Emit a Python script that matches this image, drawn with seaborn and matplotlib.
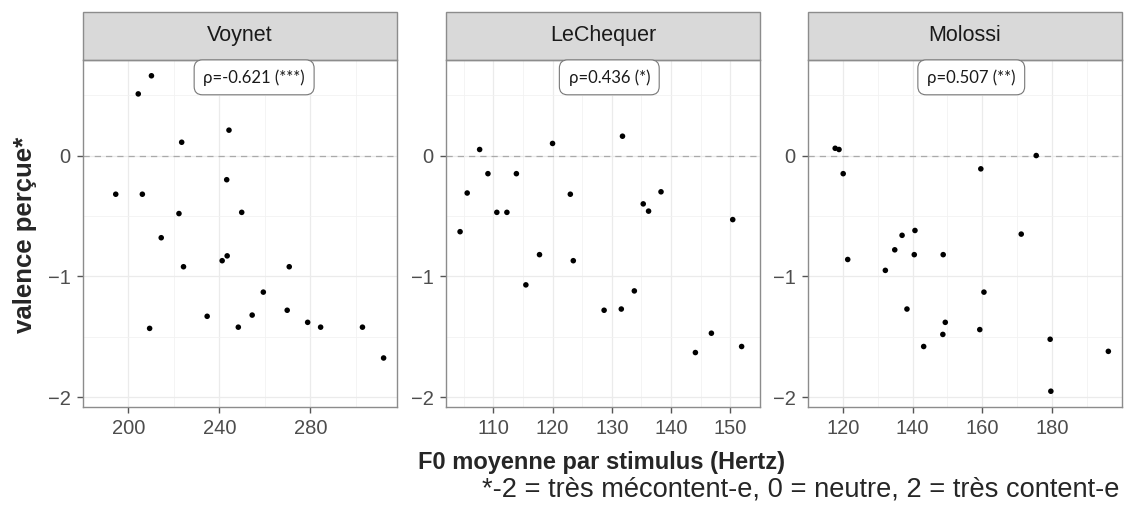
import matplotlib
matplotlib.use("Agg")
import matplotlib.pyplot as plt
from matplotlib.patches import Rectangle
import pandas as pd
import seaborn as sns

# data
speakers = ["Voynet", "LeChequer", "Molossi"]
rho_labels = ["ρ=-0.621 (***)", "ρ=0.436 (*)", "ρ=0.507 (**)"]

voynet_f0 = [194.4, 204.3, 210.1, 206.1, 209.3, 214.4, 222.2, 223.4, 224.2, 234.6, 241.2, 243.4,
             243.2, 244.2, 248.3, 249.8, 254.4, 259.3, 269.8, 270.7, 278.8, 284.5, 302.9, 312.2]
voynet_val = [-0.32, 0.51, 0.66, -0.32, -1.43, -0.68, -0.48, 0.11, -0.92, -1.33, -0.87, -0.83,
              -0.20, 0.21, -1.42, -0.47, -1.32, -1.13, -1.28, -0.92, -1.38, -1.42, -1.42, -1.675]

lechequer_f0 = [104.4, 105.6, 107.7, 109.1, 110.6, 112.3, 113.9, 115.5, 117.8, 120.0, 123.0, 123.5,
                128.7, 131.6, 131.8, 133.8, 135.3, 136.2, 138.3, 144.1, 146.8, 150.4, 151.9]
lechequer_val = [-0.63, -0.31, 0.05, -0.15, -0.47, -0.47, -0.15, -1.07, -0.82, 0.10, -0.32, -0.87,
                 -1.28, -1.27, 0.16, -1.12, -0.40, -0.46, -0.30, -1.63, -1.47, -0.53, -1.58]

molossi_f0 = [117.8, 118.9, 120.1, 121.4, 132.2, 134.9, 137.0, 138.4, 140.5, 140.7, 143.2,
              148.7, 148.8, 149.4, 159.3, 159.6, 160.5, 171.2, 175.5, 179.5, 179.7, 196.2]
molossi_val = [0.06, 0.05, -0.15, -0.86, -0.95, -0.78, -0.66, -1.27, -0.82, -0.62, -1.58,
               -1.48, -0.82, -1.38, -1.44, -0.11, -1.13, -0.65, 0.00, -1.52, -1.95, -1.62]

x_major = [[200, 240, 280], [110, 120, 130, 140, 150], [120, 140, 160, 180]]
y_major = [-2, -1, 0]
y_minor = [-1.5, -0.5, 0.5]

df = pd.concat([
    pd.DataFrame({"speaker": "Voynet", "f0": voynet_f0, "val": voynet_val}),
    pd.DataFrame({"speaker": "LeChequer", "f0": lechequer_f0, "val": lechequer_val}),
    pd.DataFrame({"speaker": "Molossi", "f0": molossi_f0, "val": molossi_val}),
])

sns.set_theme(style="white")
plt.rcParams["font.family"] = ["Liberation Sans", "DejaVu Sans"]

fig = plt.figure(figsize=(11.28, 5.09), dpi=100)
lefts = [83 / 1128, 446 / 1128, 808 / 1128]
w, b, h = 314 / 1128, 102 / 509, 347 / 509
box_x = [0.545, 0.52, 0.52]

# shared y range, ggplot-like 5% expansion
ymin, ymax = df["val"].min(), df["val"].max()
ypad = (ymax - ymin) * 0.05

for i, sp in enumerate(speakers):
    ax = fig.add_axes([lefts[i], b, w, h])
    d = df[df["speaker"] == sp]
    xmin, xmax = d["f0"].min(), d["f0"].max()
    xpad = (xmax - xmin) * 0.05
    ax.set_xlim(xmin - xpad, xmax + xpad)
    ax.set_ylim(ymin - ypad, ymax + ypad)

    xm = x_major[i]
    step = xm[1] - xm[0]
    xminor = [v + step / 2 for v in [xm[0] - step] + xm]
    ax.set_xticks(xm)
    ax.set_xticks(xminor, minor=True)
    ax.set_yticks(y_major)
    ax.set_yticks(y_minor, minor=True)
    ax.grid(True, which="major", color="#EBEBEB", lw=0.9)
    ax.grid(True, which="minor", color="#F2F2F2", lw=0.6)
    ax.set_axisbelow(True)

    ax.axhline(0, color="#AAAAAA", lw=0.9, ls=(0, (5, 4)), zorder=1)
    sns.scatterplot(data=d, x="f0", y="val", ax=ax, color="black", s=16,
                    edgecolor="none", zorder=3)

    ax.set_xlabel("")
    ax.set_ylabel("")
    ax.tick_params(axis="both", which="major", length=4.5, width=1, color="#555555",
                   labelcolor="#4D4D4D", labelsize=14.5, direction="out", pad=4.5,
                   bottom=True, left=True)
    ax.tick_params(which="minor", length=0)
    for s in ax.spines.values():
        s.set_color("#8C8C8C")
        s.set_linewidth(1.0)

    # strip
    sh = 48 / 347
    ax.add_patch(Rectangle((0, 1.0), 1, sh, transform=ax.transAxes, clip_on=False,
                           facecolor="#D9D9D9", edgecolor="#8C8C8C", lw=1.0))
    ax.text(0.5, 1 + sh / 2, sp, transform=ax.transAxes, ha="center", va="center",
            fontsize=15.5, color="#1A1A1A")

    # correlation box
    ax.text(box_x[i], 0.95, rho_labels[i], transform=ax.transAxes, ha="center", va="center",
            fontsize=12, family=["Lato", "DejaVu Sans"], color="#1A1A1A", zorder=5,
            bbox=dict(boxstyle="round,pad=0.55,rounding_size=0.5", fc="white",
                      ec="#777777", lw=0.8))

fig.text(25 / 1128, 1 - 235 / 509, "valence perçue*", rotation=90, ha="center", va="center",
         fontsize=18.5, fontweight="bold")
fig.text(601 / 1128, 1 - 462 / 509, "F0 moyenne par stimulus (Hertz)", ha="center",
         va="center", fontsize=17, fontweight="bold")
fig.text(1119 / 1128, 1 - 489 / 509, "*-2 = très mécontent-e, 0 = neutre, 2 = très content-e",
         ha="right", va="center", fontsize=19.6)

fig.savefig("out.png", dpi=100)
